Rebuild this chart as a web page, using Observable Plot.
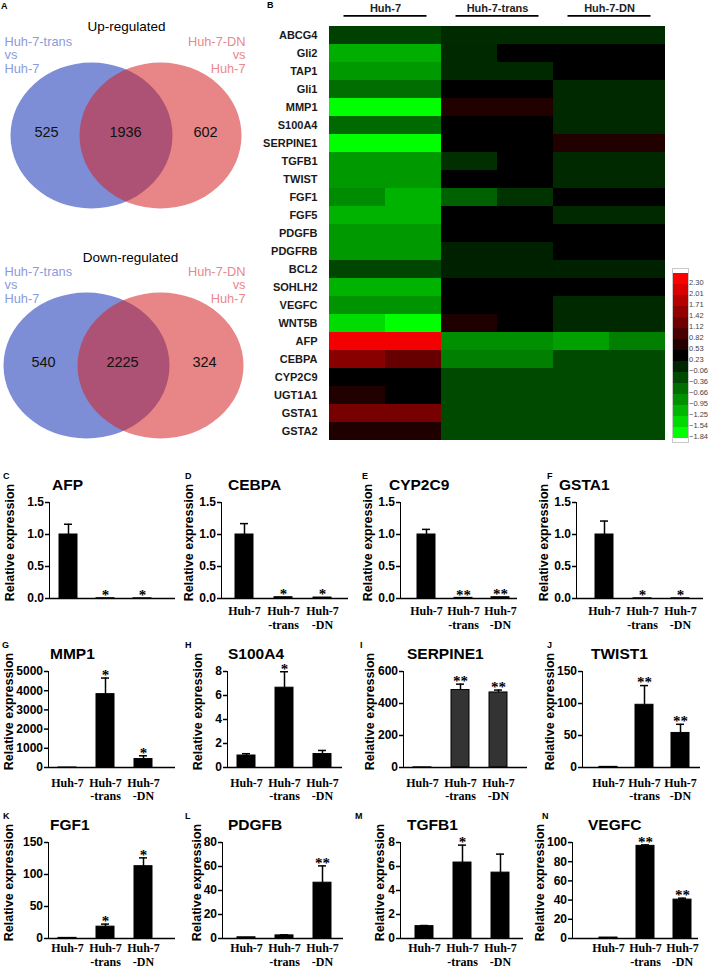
<!DOCTYPE html>
<html><head><meta charset="utf-8">
<script src="https://cdn.jsdelivr.net/npm/d3@7"></script>
<script src="https://cdn.jsdelivr.net/npm/@observablehq/plot@0.6"></script>
<style>
html,body{margin:0;padding:0;background:#fff;}
#fig{position:relative;width:709px;height:968px;overflow:hidden;background:#fff;font-family:"Liberation Sans",Arial,sans-serif;}
#fig svg{position:absolute;overflow:visible;background:transparent !important;max-width:none !important;}
.lbl{position:absolute;white-space:nowrap;line-height:1;color:#000;}
.letter{font-weight:bold;font-size:9px;}
.ptitle{font-weight:bold;font-size:15.5px;}
.bar [aria-label^="y-axis"] path,.bar [aria-label^="y-axis"] line{stroke-width:1.5px;}
</style></head>
<body><div id="fig"></div>
<script>
// ---------------- DATA ----------------
const vennUpCounts = [525, 1936, 602];
const vennDownCounts = [540, 2225, 324];
const vennSetLabels = ["Huh-7-trans\nvs\nHuh-7", "Huh-7-DN\nvs\nHuh-7"];
const vennTitles = ["Up-regulated", "Down-regulated"];

const heatGenes = ["ABCG4","Gli2","TAP1","Gli1","MMP1","S100A4","SERPINE1","TGFB1","TWIST","FGF1","FGF5","PDGFB","PDGFRB","BCL2","SOHLH2","VEGFC","WNT5B","AFP","CEBPA","CYP2C9","UGT1A1","GSTA1","GSTA2"];
const heatGroups = ["Huh-7","Huh-7-trans","Huh-7-DN"];
const heatColumns = ["Huh-7 #1","Huh-7 #2","Huh-7-trans #1","Huh-7-trans #2","Huh-7-DN #1","Huh-7-DN #2"];
const heatValues = [
  [-0.29,-0.29,-0.12,-0.12,-0.12,-0.12],
  [-1.18,-1.18,-0.10, 0.23, 0.23, 0.23],
  [-1.01,-1.01,-0.10,-0.10, 0.23, 0.23],
  [-0.66,-0.66, 0.23, 0.23,-0.10,-0.10],
  [-1.84,-1.84, 0.50, 0.50,-0.10,-0.10],
  [-0.62,-0.62, 0.23, 0.23,-0.10,-0.10],
  [-1.84,-1.84, 0.23, 0.23, 0.50, 0.50],
  [-1.01,-1.01,-0.16, 0.23,-0.10,-0.10],
  [-1.01,-1.01, 0.23, 0.23,-0.10,-0.10],
  [-0.91,-1.22,-0.56,-0.18, 0.23, 0.23],
  [-1.22,-1.22, 0.23, 0.23,-0.10,-0.10],
  [-1.01,-1.01, 0.23, 0.23, 0.23, 0.23],
  [-1.01,-1.01,-0.04,-0.04, 0.23, 0.23],
  [-0.33,-0.33,-0.04,-0.04,-0.04,-0.04],
  [-1.22,-1.22, 0.23, 0.23, 0.23, 0.23],
  [-0.97,-0.97, 0.23, 0.23,-0.10,-0.10],
  [-1.55,-1.84, 0.48, 0.23,-0.10,-0.10],
  [ 2.20, 2.20,-0.93,-0.93,-1.07,-0.80],
  [ 1.33, 1.06,-0.80,-0.80,-0.37,-0.37],
  [ 0.23, 0.23,-0.37,-0.37,-0.37,-0.37],
  [ 0.50, 0.23,-0.37,-0.37,-0.37,-0.37],
  [ 1.20, 1.20,-0.37,-0.37,-0.37,-0.37],
  [ 0.48, 0.48,-0.37,-0.37,-0.37,-0.37]
];
const legendTicks = [2.30, 2.01, 1.71, 1.42, 1.12, 0.82, 0.53, 0.23, -0.06, -0.36, -0.66, -0.95, -1.25, -1.54, -1.84];

const barCategories = ["Huh-7", "Huh-7-trans", "Huh-7-DN"];
const barCategoryLabels = ["Huh-7", "Huh-7\n-trans", "Huh-7\n-DN"];

const afpMean = [1.0, 0.004, 0.003],   afpErr = [0.16, 0, 0],    afpSig = ["", "*", "*"];
const cebpaMean = [1.0, 0.02, 0.015],  cebpaErr = [0.17, 0, 0],  cebpaSig = ["", "*", "*"];
const cyp2c9Mean = [1.0, 0.01, 0.02],  cyp2c9Err = [0.08, 0, 0], cyp2c9Sig = ["", "**", "**"];
const gsta1Mean = [1.0, 0.003, 0.003], gsta1Err = [0.21, 0, 0],  gsta1Sig = ["", "*", "*"];
const mmp1Mean = [1, 3820, 440],       mmp1Err = [0, 840, 170],  mmp1Sig = ["", "*", "*"];
const s100a4Mean = [1.0, 6.65, 1.12],  s100a4Err = [0.15, 1.33, 0.3], s100a4Sig = ["", "*", ""];
const serpine1Mean = [1, 484, 469],    serpine1Err = [0, 37, 15], serpine1Sig = ["", "**", "**"];
const twist1Mean = [1, 98, 54],        twist1Err = [0, 30, 13.5], twist1Sig = ["", "**", "**"];
const fgf1Mean = [1, 18.5, 113],       fgf1Err = [0, 4, 13],     fgf1Sig = ["", "*", "*"];
const pdgfbMean = [1, 2.6, 46.5],      pdgfbErr = [0, 0.4, 14],  pdgfbSig = ["", "", "**"];
const tgfb1Mean = [1.03, 6.33, 5.49],  tgfb1Err = [0.05, 1.45, 1.54], tgfb1Sig = ["", "*", ""];
const vegfcMean = [1, 96.5, 40.5],     vegfcErr = [0, 1, 1.5],   vegfcSig = ["", "**", "**"];

const ticksUnit = [0, 0.5, 1.0, 1.5];
const ticksMMP1 = [0, 1000, 2000, 3000, 4000, 5000];
const ticks8 = [0, 2, 4, 6, 8];
const ticks600 = [0, 200, 400, 600];
const ticks150 = [0, 50, 100, 150];
const ticks80 = [0, 20, 40, 60, 80];
const ticks100 = [0, 20, 40, 60, 80, 100];

// ---------------- LAYOUT ----------------
const fig = document.getElementById("fig");
function put(el, left, top, cls) {
  el.style.left = left + "px"; el.style.top = top + "px";
  if (cls) el.classList.add(cls);
  fig.appendChild(el); return el;
}
function htmlLabel(text, left, top, cls) {
  const d = document.createElement("div");
  d.className = "lbl " + cls; d.textContent = text;
  d.style.left = left + "px"; d.style.top = top + "px";
  fig.appendChild(d);
}

// ---------------- VENN (A) ----------------
const vennLayouts = [
  {top: 0,   cx: [91, 160], cy: 135, rx: 81, ry: 73, nx: [46, 125, 205], ny: 132, tx: 126, ty: 26},
  {top: 230, cx: [86, 160], cy: 135, rx: 83, ry: 73, nx: [43, 122, 204], ny: 132, tx: 130, ty: 27}
];
[vennUpCounts, vennDownCounts].forEach((counts, k) => {
  const L = vennLayouts[k];
  const W = 250, H = 230;
  const svg = Plot.plot({
    width: W, height: H, margin: 0,
    x: {domain: [0, W], range: [0, W], axis: null},
    y: {domain: [0, H], range: [0, H], axis: null},
    style: {fontFamily: "Liberation Sans, Arial, sans-serif", fontSize: "14px"},
    marks: [
      Plot.dot([0], {x: () => L.cx[0], y: () => L.cy, r: L.rx, fill: "#7e8ed6", stroke: "none"}),
      Plot.dot([1], {x: () => L.cx[1], y: () => L.cy, r: L.rx, fill: "#d42125", fillOpacity: 0.55, stroke: "none"}),
      Plot.text(counts, {x: (d, i) => L.nx[i], y: () => L.ny, text: d => String(d), fontSize: 14.5, fill: "#111"}),
      Plot.text([vennTitles[k]], {x: () => L.tx, y: () => L.ty, text: d => d, fontSize: 13.5, fill: "#000"}),
      Plot.text([vennSetLabels[0]], {x: () => 4, y: () => 36, text: d => d, textAnchor: "start", lineAnchor: "top", lineHeight: 1.05, fontSize: 12.8, fill: "#8b9bdc"}),
      Plot.text([vennSetLabels[1]], {x: () => 245, y: () => 36, text: d => d, textAnchor: "end", lineAnchor: "top", lineHeight: 1.05, fontSize: 12.8, fill: "#e8898b"})
    ]
  });
  svg.querySelectorAll("circle").forEach(c => {
    const cx = +c.getAttribute("cx"), cy = +c.getAttribute("cy");
    c.setAttribute("transform", `translate(${cx},${cy}) scale(1,${L.ry / L.rx}) translate(${-cx},${-cy})`);
  });
  put(svg, 0, L.top);
});
htmlLabel("A", 1, 2, "letter");
htmlLabel("B", 267, 1, "letter");

// ---------------- HEATMAP (B) ----------------
const heatData = heatGenes.flatMap((g, i) => heatColumns.map((c, j) => ({gene: g, col: c, value: heatValues[i][j]})));
const heatColor = {type: "linear", domain: [-1.84, 0.23, 2.30], range: ["#00ff00", "#000000", "#ff0000"], interpolate: "rgb", clamp: true};

const heat = Plot.plot({
  width: 430, height: 452, marginLeft: 88, marginRight: 5, marginTop: 23, marginBottom: 10,
  x: {domain: heatColumns, padding: 0, axis: null},
  y: {domain: heatGenes, padding: 0, tickSize: 0, tickPadding: 11, label: null},
  color: heatColor,
  style: {fontFamily: "Liberation Sans, Arial, sans-serif", fontSize: "11px", fontWeight: "bold", color: "#1a1a1a"},
  marks: [
    Plot.cell(heatData, {x: "col", y: "gene", fill: "value", inset: 0})
  ]
});
put(heat, 240, 0);

const header = Plot.plot({
  width: 430, height: 23, marginLeft: 88, marginRight: 5, marginTop: 0, marginBottom: 0,
  x: {domain: heatGroups, padding: 0, axis: null},
  y: {domain: [0, 1], axis: null},
  style: {fontFamily: "Liberation Sans, Arial, sans-serif", fontSize: "11px", fontWeight: "bold"},
  marks: [
    Plot.tickY(heatGroups, {x: d => d, y: () => 0.33, stroke: "#000", strokeWidth: 1.6, insetLeft: 14.5, insetRight: 14.5}),
    Plot.text(heatGroups, {x: d => d, y: () => 0.65, text: d => d, fill: "#222"})
  ]
});
put(header, 240, 0);

const legend = Plot.plot({
  width: 44, height: 188, marginLeft: 7, marginRight: 21, marginTop: 8, marginBottom: 6,
  y: {domain: legendTicks, padding: 0, axis: null},
  color: heatColor,
  style: {fontFamily: "Liberation Sans, Arial, sans-serif", fontSize: "7.5px"},
  marks: [
    Plot.cell(legendTicks, {y: d => d, fill: d => d}),
    Plot.frame({stroke: "#c8c8c8"}),
    Plot.text(legendTicks, {y: d => d, text: d => d3.format(".2f")(d), frameAnchor: "right", textAnchor: "start", dx: 0.5, dy: 4, fill: "#444"})
  ]
});
put(legend, 665, 260);

// ---------------- BAR PANELS (C-N) ----------------
const rowTop = [502, 671, 842];
const rowLabelDy = [6, 10, 4.5];
const rowLineHeight = [1.2, 1.1, 1.1];
const panels = [
  {id: "C", gene: "AFP",      mean: afpMean,      err: afpErr,      sig: afpSig,      ticks: ticksUnit, fmt: ".1f", row: 0, ax0: 49,  ax1: 175, c1: 68,  c3: 142, ylab: 9,   labels: false, lx: 3,   tx: 52},
  {id: "D", gene: "CEBPA",    mean: cebpaMean,    err: cebpaErr,    sig: cebpaSig,    ticks: ticksUnit, fmt: ".1f", row: 0, ax0: 221, ax1: 348, c1: 244, c3: 322, ylab: 197, labels: true,  lx: 185, tx: 228},
  {id: "E", gene: "CYP2C9",   mean: cyp2c9Mean,   err: cyp2c9Err,   sig: cyp2c9Sig,   ticks: ticksUnit, fmt: ".1f", row: 0, ax0: 400, ax1: 517, c1: 425, c3: 500, ylab: 369, labels: true,  lx: 362, tx: 389},
  {id: "F", gene: "GSTA1",    mean: gsta1Mean,    err: gsta1Err,    sig: gsta1Sig,    ticks: ticksUnit, fmt: ".1f", row: 0, ax0: 576, ax1: 703, c1: 603, c3: 680, ylab: 553, labels: true,  lx: 547, tx: 559},
  {id: "G", gene: "MMP1",     mean: mmp1Mean,     err: mmp1Err,     sig: mmp1Sig,     ticks: ticksMMP1, fmt: "d",   row: 1, ax0: 48,  ax1: 175, c1: 67,  c3: 143, ylab: 8,   labels: true,  lx: 2,   tx: 50},
  {id: "H", gene: "S100A4",   mean: s100a4Mean,   err: s100a4Err,   sig: s100a4Sig,   ticks: ticks8,    fmt: "d",   row: 1, ax0: 227, ax1: 342, c1: 245, c3: 322, ylab: 197, labels: true,  lx: 185, tx: 228},
  {id: "I", gene: "SERPINE1", mean: serpine1Mean, err: serpine1Err, sig: serpine1Sig, ticks: ticks600,  fmt: "d",   row: 1, ax0: 403, ax1: 527, c1: 422, c3: 498, ylab: 369, labels: true,  lx: 360, tx: 407, fill: "#333"},
  {id: "J", gene: "TWIST1",   mean: twist1Mean,   err: twist1Err,   sig: twist1Sig,   ticks: ticks150,  fmt: "d",   row: 1, ax0: 582, ax1: 700, c1: 607, c3: 680, ylab: 557, labels: true,  lx: 547, tx: 591},
  {id: "K", gene: "FGF1",     mean: fgf1Mean,     err: fgf1Err,     sig: fgf1Sig,     ticks: ticks150,  fmt: "d",   row: 2, ax0: 48,  ax1: 175, c1: 67,  c3: 143, ylab: 8,   labels: true,  lx: 3,   tx: 50},
  {id: "L", gene: "PDGFB",    mean: pdgfbMean,    err: pdgfbErr,    sig: pdgfbSig,    ticks: ticks80,   fmt: "d",   row: 2, ax0: 222, ax1: 343, c1: 245, c3: 322, ylab: 196, labels: true,  lx: 185, tx: 228},
  {id: "M", gene: "TGFB1",    mean: tgfb1Mean,    err: tgfb1Err,    sig: tgfb1Sig,    ticks: ticks8,    fmt: "d",   row: 2, ax0: 400, ax1: 523, c1: 423, c3: 500, ylab: 379, labels: true,  lx: 355, tx: 407},
  {id: "N", gene: "VEGFC",    mean: vegfcMean,    err: vegfcErr,    sig: vegfcSig,    ticks: ticks100,  fmt: "d",   row: 2, ax0: 572, ax1: 698, c1: 607, c3: 682, ylab: 546, labels: true,  lx: 542, tx: 588}
];

const tickFont = 12;
panels.forEach(p => {
  const mL = 60, mR = 8, mT = 30, mB = 45, plotH = 96;
  const svgLeft = p.ax0 - mL;
  const data = barCategories.map((c, i) => ({cat: c, label: barCategoryLabels[i], mean: p.mean[i], err: p.err[i], top: p.mean[i] + p.err[i], sig: p.sig[i]}));
  const ymax = p.ticks[p.ticks.length - 1];
  const step = (p.c3 - p.c1) / 2;
  const fmt = d3.format(p.fmt);
  const widest = d3.max(p.ticks, t => fmt(t).length * 0.556 * tickFont);
  const ylabX = Math.min(p.ylab, p.ax0 - 5.5 - widest - 7);
  const marks = [
    Plot.barY(data, {x: "cat", y: "mean", fill: p.fill || "#000", stroke: "#000", strokeWidth: 1}),
    Plot.ruleX(data.filter(d => d.err > 0), {x: "cat", y1: "mean", y2: "top", stroke: "#000", strokeWidth: 1.5}),
    Plot.tickY(data.filter(d => d.err > 0), {x: "cat", y: "top", stroke: "#000", strokeWidth: 1.5, insetLeft: 5, insetRight: 5}),
    Plot.text(data.filter(d => d.sig), {x: "cat", y: "top", text: "sig", dy: -3, fontFamily: "Liberation Serif, Times New Roman, serif", fontSize: 15, fill: "#000"}),
    Plot.ruleY([0], {stroke: "#000", strokeWidth: 1.5}),
    Plot.text(["Relative expression"], {frameAnchor: "left", text: d => d, dx: ylabX - p.ax0, dy: -8, rotate: -90, textAnchor: "middle", fontSize: 12.5, ariaLabel: "ylab"})
  ];
  if (p.labels) marks.push(
    Plot.text(data, {x: "cat", y: () => 0, text: "label", lineAnchor: "top", dy: rowLabelDy[p.row], lineHeight: rowLineHeight[p.row], fontFamily: "Liberation Serif, Times New Roman, serif", fontSize: 12, fill: "#000"})
  );
  const svg = Plot.plot({
    width: mL + (p.ax1 - p.ax0) + mR, height: mT + plotH + mB,
    marginLeft: mL, marginRight: mR, marginTop: mT, marginBottom: mB,
    x: {domain: barCategories, range: [p.c1 - 9 - svgLeft, p.c3 + 9 - svgLeft], paddingInner: 1 - 18 / step, paddingOuter: 0, axis: null},
    y: {domain: [0, ymax], ticks: p.ticks, tickFormat: fmt, tickSize: 4, tickPadding: 1.5, line: true, label: null},
    style: {fontFamily: "Liberation Sans, Arial, sans-serif", fontSize: tickFont + "px", fontWeight: "bold", color: "#000"},
    marks
  });
  svg.querySelectorAll('g[aria-label="ylab"] text').forEach(t => {
    t.setAttribute("textLength", 104);
    t.setAttribute("lengthAdjust", "spacingAndGlyphs");
  });
  put(svg, svgLeft, rowTop[p.row] - mT, "bar");
  htmlLabel(p.id, p.lx, rowTop[p.row] - 30, "letter");
  htmlLabel(p.gene, p.tx, rowTop[p.row] - 25, "ptitle");
});
</script>
</body></html>
